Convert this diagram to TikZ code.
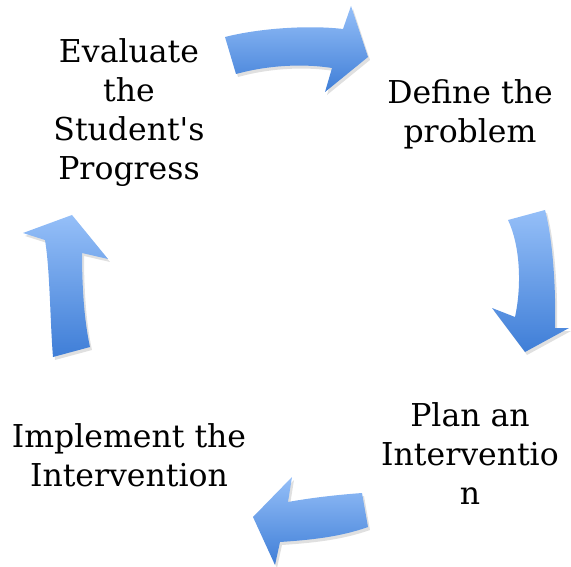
\documentclass[tikz,border=0pt]{standalone}
\usepackage{fontspec}
\setmainfont{DejaVu Serif}[Ligatures=TeXOff]
\definecolor{arrowtop}{HTML}{95BFF8}
\definecolor{arrowbot}{HTML}{3F7ED7}
\tikzset{
  steptext/.style={align=center,font=\fontsize{31.5}{39}\selectfont,inner sep=0pt},
  cyclearrow/.style={top color=arrowtop,bottom color=arrowbot,draw=none},
  arrowshadow/.style={fill=black,opacity=0.12,draw=none}
}
\begin{document}
\begin{tikzpicture}[x=1pt,y=-1pt]
  \useasboundingbox (0,0) rectangle (571,567);
  % the four steps
  \node[steptext] (evaluate) at (129,113) {Evaluate\\the\\Student's\\Progress};
  \node[steptext] (define) at (470,114) {Define the\\problem};
  \node[steptext] (plan) at (470,454) {Plan an\\Interventio\\n};
  \node[steptext] (implement) at (129,455) {Implement the\\Intervention};
  % top arrow
  \begin{scope}[shift={(2,3)}]
    \fill[arrowshadow] (225,37) .. controls (260,28) and (310,25) .. (343,29) -- (351,6) -- (368,57) -- (325,92) -- (332,68) .. controls (300,63) and (265,66) .. (236,74) -- cycle;
  \end{scope}
  \shade[cyclearrow] (225,37) .. controls (260,28) and (310,25) .. (343,29) -- (351,6) -- (368,57) -- (325,92) -- (332,68) .. controls (300,63) and (265,66) .. (236,74) -- cycle;
  % right arrow
  \begin{scope}[shift={(2,3)}]
    \fill[arrowshadow] (508,220) -- (545,210) .. controls (553,240) and (556,290) .. (555,328) -- (569,328) -- (525,352) -- (492,308) -- (515,317) .. controls (522,285) and (520,245) .. (508,220);
  \end{scope}
  \shade[cyclearrow] (508,220) -- (545,210) .. controls (553,240) and (556,290) .. (555,328) -- (569,328) -- (525,352) -- (492,308) -- (515,317) .. controls (522,285) and (520,245) .. (508,220);
  % bottom arrow
  \begin{scope}[shift={(2,3)}]
    \fill[arrowshadow] (362,493) -- (368,527) .. controls (340,537) and (310,540) .. (280,542) -- (275,565) -- (253,517) -- (292,477) -- (288,502) .. controls (310,498) and (335,495) .. (362,493);
  \end{scope}
  \shade[cyclearrow] (362,493) -- (368,527) .. controls (340,537) and (310,540) .. (280,542) -- (275,565) -- (253,517) -- (292,477) -- (288,502) .. controls (310,498) and (335,495) .. (362,493);
  % left arrow
  \begin{scope}[shift={(2,3)}]
    \fill[arrowshadow] (53,357) -- (90,347) .. controls (84,320) and (82,285) .. (82,253) -- (108,259) -- (72,215) -- (23,233) -- (45,240) .. controls (50,270) and (50,320) .. (53,357);
  \end{scope}
  \shade[cyclearrow] (53,357) -- (90,347) .. controls (84,320) and (82,285) .. (82,253) -- (108,259) -- (72,215) -- (23,233) -- (45,240) .. controls (50,270) and (50,320) .. (53,357);
\end{tikzpicture}
\end{document}
